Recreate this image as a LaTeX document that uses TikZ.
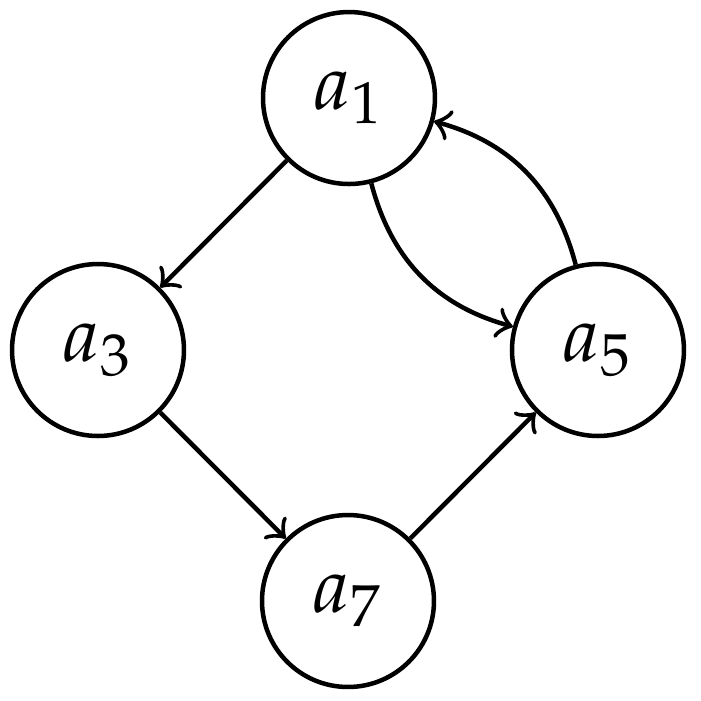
\documentclass[tikz,border=0pt]{standalone}
\usepackage{mathpazo}
\begin{document}
\begin{tikzpicture}[x=0.13333pt,y=-0.13333pt,
  vert/.style={circle,draw,line width=0.6pt,minimum size=22.93pt,inner sep=0pt,font=\fontsize{10.4}{12}\selectfont},
  edge/.style={->,line width=0.6pt}]
\useasboundingbox (0,0) rectangle (701,701);
\node[vert] (a1) at (349,98) {$a_1$};
\node[vert] (a3) at (98,350) {$a_3$};
\node[vert] (a5) at (598,350) {$a_5$};
\node[vert] (a7) at (348,601) {$a_7$};
\draw[edge] (a1) -- (a3);
\draw[edge] (a3) -- (a7);
\draw[edge] (a7) -- (a5);
\draw[edge] (a1) to[bend right=30] (a5);
\draw[edge] (a5) to[bend right=30] (a1);
\end{tikzpicture}
\end{document}
